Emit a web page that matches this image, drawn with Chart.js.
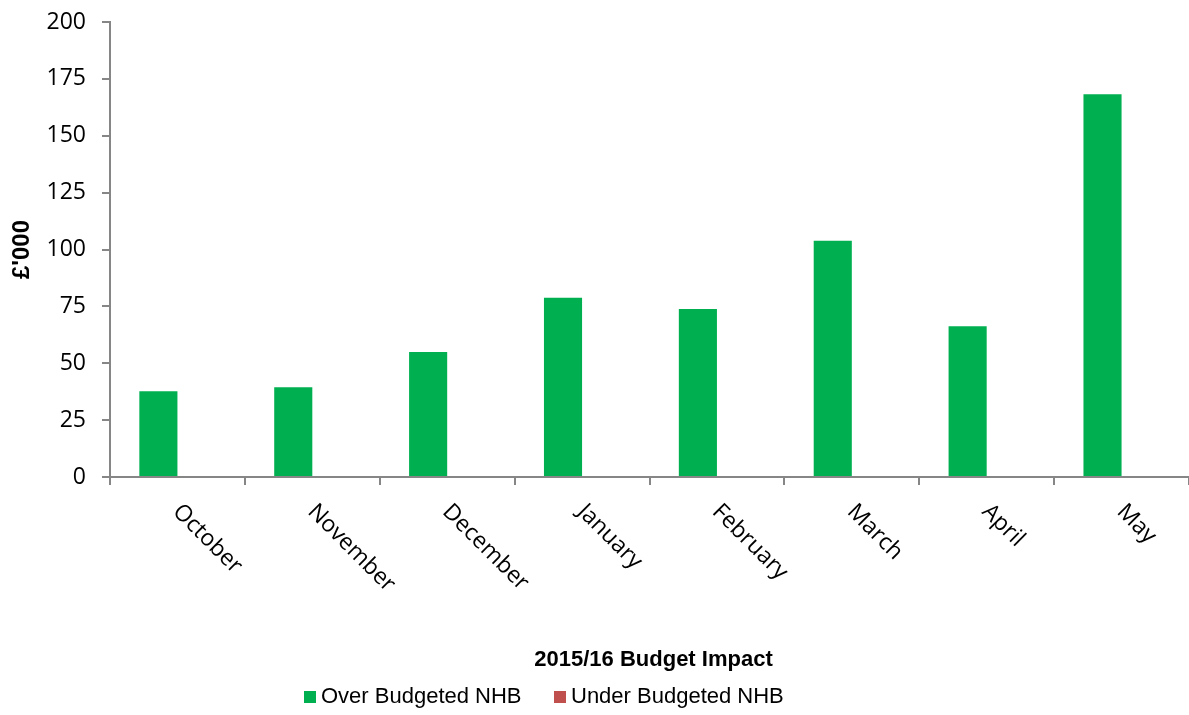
<!DOCTYPE html>
<html>
<head>
<meta charset="utf-8">
<script src="https://cdn.jsdelivr.net/npm/chart.js@4.4.0/dist/chart.umd.min.js"></script>
<style>
  body { margin: 0; background: #fff; }
  #wrap { width: 1189px; height: 715px; position: relative; }
</style>
</head>
<body>
<div id="wrap"><canvas id="budget-chart"></canvas></div>
<script>
// chart data
const categories = ['October', 'November', 'December', 'January', 'February', 'March', 'April', 'May'];
const overBudgeted = [37.7, 39.4, 55.0, 78.8, 73.9, 103.8, 66.3, 168.2];
const underBudgeted = [0, 0, 0, 0, 0, 0, 0, 0];
const seriesNames = ['Over Budgeted NHB', 'Under Budgeted NHB'];
const yMin = 0, yMax = 200, yStep = 25;

const GREEN = '#00B050';
const RED = '#C0504D';
const AXIS = '#868686';

// rotated month labels, title under the axis and the legend
const extrasPlugin = {
    id: 'extras',
    afterDraw: function(chart) {
        const ctx = chart.ctx;
        const xs = chart.scales.x;
        const area = chart.chartArea;
        ctx.save();
        ctx.fillStyle = '#000';
        ctx.font = '23px "Open Sans"';
        ctx.textAlign = 'left';
        ctx.textBaseline = 'middle';
        categories.forEach(function(label, i) {
            const x = xs.getPixelForValue(i);
            ctx.save();
            ctx.translate(x - 1, area.bottom + 31);
            ctx.rotate(Math.PI / 4);
            ctx.fillText(label, 0, 0);
            ctx.restore();
        });

        // bottom title, centred on the plot area
        ctx.font = 'bold 22px "Liberation Sans"';
        ctx.textAlign = 'center';
        ctx.fillText('2015/16 Budget Impact', (area.left + area.right) / 2 + 4, 660);

        // legend
        ctx.font = '22px "Liberation Sans"';
        ctx.textAlign = 'left';
        const colors = [GREEN, RED];
        const starts = [304, 554];
        seriesNames.forEach(function(name, i) {
            ctx.fillStyle = colors[i];
            ctx.fillRect(starts[i], 691, 12, 12);
            ctx.fillStyle = '#000';
            ctx.fillText(name, starts[i] + 17, 697);
        });
        ctx.restore();
    }
};

const ctx = document.getElementById('budget-chart').getContext('2d');
new Chart(ctx, {
    type: 'bar',
    data: {
        labels: categories,
        datasets: [{
            label: seriesNames[0],
            data: overBudgeted,
            backgroundColor: GREEN
        }, {
            label: seriesNames[1],
            data: underBudgeted,
            backgroundColor: RED
        }]
    },
    options: {
        responsive: true,
        maintainAspectRatio: false,
        animation: false,
        datasets: {
            bar: { categoryPercentage: 0.565, barPercentage: 1.0 }
        },
        layout: { padding: { top: 22, right: 0, bottom: 230, left: 0 } },
        plugins: {
            legend: { display: false },
            tooltip: { enabled: false }
        },
        scales: {
            x: {
                grid: { drawOnChartArea: false, drawTicks: true, tickLength: 8, color: AXIS, lineWidth: 2, offset: true },
                border: { color: AXIS, width: 2 },
                ticks: { display: false }
            },
            y: {
                min: yMin,
                max: yMax,
                afterFit: function(scale) {
                    scale.width = 110;
                    scale.paddingTop = 0;
                    scale.paddingBottom = 0;
                },
                grid: { drawOnChartArea: false, drawTicks: true, tickLength: 8, color: AXIS, lineWidth: 2 },
                border: { color: AXIS, width: 2 },
                ticks: {
                    stepSize: yStep,
                    padding: 16,
                    color: '#000',
                    font: { family: '"Open Sans"', size: 23 }
                },
                title: {
                    display: true,
                    text: "£'000",
                    color: '#000',
                    padding: { top: 8, bottom: 0 },
                    font: { family: '"Liberation Sans"', size: 24, weight: 'bold' }
                }
            }
        }
    },
    plugins: [extrasPlugin]
});
</script>
</body>
</html>
